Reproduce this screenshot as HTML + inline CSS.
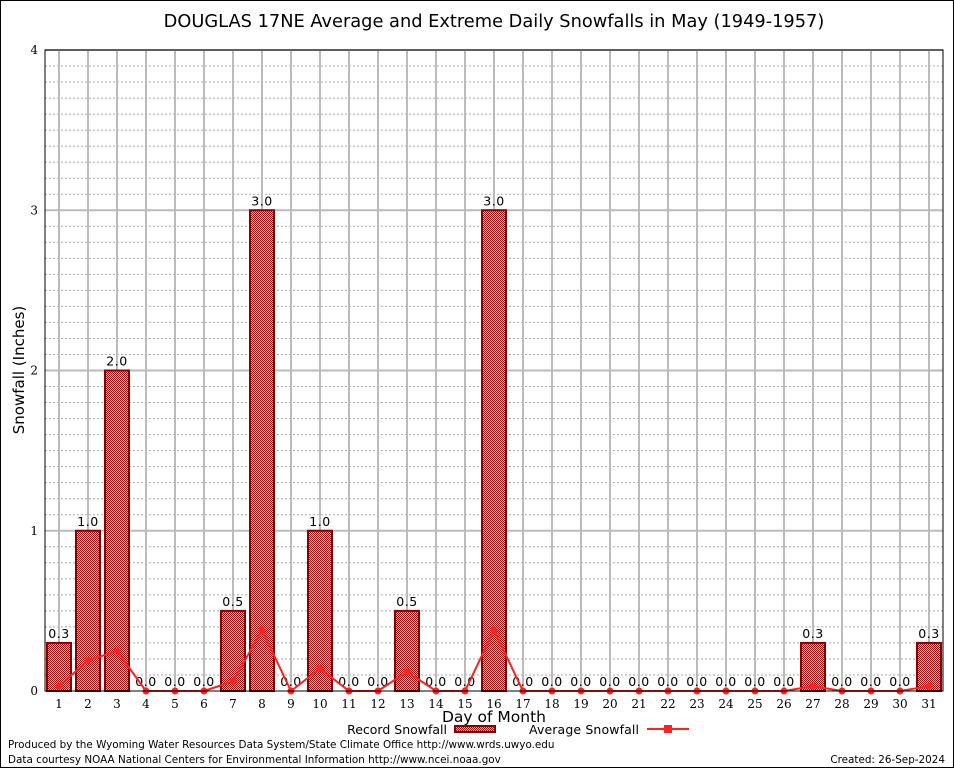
<!DOCTYPE html>
<html><head><meta charset="utf-8"><style>
body{margin:0;background:#fff}
svg{display:block;font-family:"DejaVu Sans","Liberation Sans",sans-serif}
</style></head><body>
<svg id="c" width="954" height="768">
<defs>
<pattern id="hatch" width="2" height="2" patternUnits="userSpaceOnUse">
<rect width="2" height="2" fill="#e8b0b0"/>
<rect width="1" height="1" fill="#a01010"/>
<rect x="1" y="1" width="1" height="1" fill="#a01010"/>
</pattern>
</defs>
<rect x="0.5" y="0.5" width="953" height="767" fill="#fff" stroke="#000"/>
<text x="494" y="27" font-size="17.8" text-anchor="middle">DOUGLAS 17NE Average and Extreme Daily Snowfalls in May (1949-1957)</text>
<g id="grid"></g>
<g id="bars"></g>
<g id="line"></g>
<rect x="45" y="50" width="898" height="641" fill="none" stroke="#000"/>
<g id="ticks" font-family="DejaVu Serif,Liberation Serif,serif" font-size="12"></g>
<text x="24" y="370" font-size="15" text-anchor="middle" transform="rotate(-90 24 370)">Snowfall (Inches)</text>
<text x="494" y="722" font-size="15.5" text-anchor="middle">Day of Month</text>
<g font-size="12.5">
<text x="447" y="734" text-anchor="end">Record Snowfall</text>
<rect x="455" y="726" width="40" height="6" fill="url(#hatch)" stroke="#8b0000" stroke-width="2"/>
<text x="529" y="734" textLength="110">Average Snowfall</text>
<line x1="647" y1="729" x2="689" y2="729" stroke="#ff2020" stroke-width="2"/>
<rect x="664" y="725" width="8" height="8" fill="#ff2020"/>
</g>
<text x="8" y="748" font-size="10.4">Produced by the Wyoming Water Resources Data System/State Climate Office http://www.wrds.uwyo.edu</text>
<text x="8" y="763" font-size="10.4">Data courtesy NOAA National Centers for Environmental Information http://www.ncei.noaa.gov</text>
<text x="945" y="763" font-size="10.4" text-anchor="end">Created: 26-Sep-2024</text>
</svg>
<script>
const days=[1,2,3,4,5,6,7,8,9,10,11,12,13,14,15,16,17,18,19,20,21,22,23,24,25,26,27,28,29,30,31];
const record=[0.3,1.0,2.0,0,0,0,0.5,3.0,0,1.0,0,0,0.5,0,0,3.0,0,0,0,0,0,0,0,0,0,0,0.3,0,0,0,0.3];
const average=[0.03,0.19,0.25,0,0,0,0.06,0.38,0,0.14,0,0,0.12,0,0,0.38,0,0,0,0,0,0,0,0,0,0,0.03,0,0,0,0.03];
const yTicks=[0,1,2,3,4];
const NS="http://www.w3.org/2000/svg";
const x=d=>59+29*(d-1);
const y=v=>691-v*160.25;
function mk(t,a,p){const e=document.createElementNS(NS,t);for(const k in a)e.setAttribute(k,a[k]);p.appendChild(e);return e;}
const g=document.getElementById('grid'),b=document.getElementById('bars'),l=document.getElementById('line'),tk=document.getElementById('ticks');
for(let i=1;i<40;i++){if(i%10===0)continue;const ln=mk('line',{x1:45,x2:943,y1:y(i/10),y2:y(i/10),stroke:'#aaa','stroke-dasharray':'2,2'},g);

}
yTicks.forEach(v=>{if(v>0){const ln=mk('line',{x1:45,x2:943,y1:y(v),y2:y(v),stroke:'#bbb','stroke-width':2},g);

}
const t=mk('text',{x:38,y:y(v)+4,'text-anchor':'end'},tk);t.textContent=v;

});
days.forEach((d,i)=>{const ln=mk('line',{x1:x(d),x2:x(d),y1:50,y2:691,stroke:'#bbb','stroke-width':2},g);


const t=mk('text',{x:x(d),y:708,'text-anchor':'middle'},tk);t.textContent=d;


const v=record[i];
if(v>0){const r=mk('rect',{x:x(d)-12,y:y(v),width:24,height:691-y(v),fill:'url(#hatch)',stroke:'#8b0000','stroke-width':2},b);

}
const lb=mk('text',{x:x(d),y:y(v)-5,'text-anchor':'middle','font-size':12.5,'letter-spacing':'0.5'},b);lb.textContent=v.toFixed(1);

});
const pl=mk('polyline',{points:days.map((d,i)=>x(d)+','+y(average[i])).join(' '),fill:'none',stroke:'#ff2020','stroke-width':2},l);


days.forEach((d,i)=>{const c=mk('circle',{cx:x(d),cy:y(average[i]),r:3.5,fill:'#ff2020'},l);

});
</script>
</body></html>
